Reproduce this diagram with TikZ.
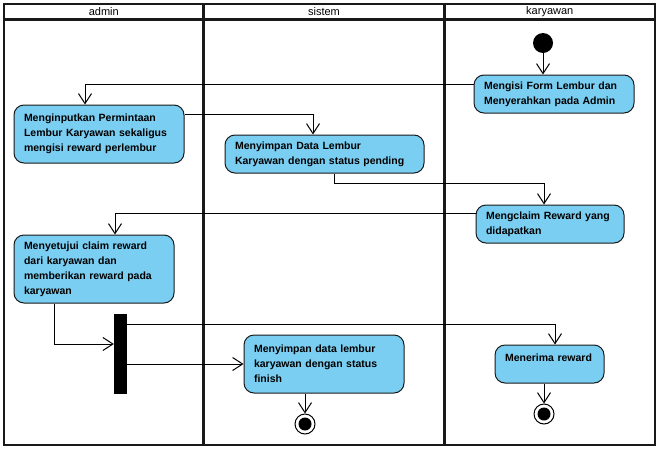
\documentclass[tikz,border=0pt]{standalone}
\usepackage{fontspec}
\setmainfont{Liberation Sans}
\usetikzlibrary{arrows.meta}
\definecolor{actfill}{RGB}{122,206,242}
\definecolor{framecol}{RGB}{25,25,25}
\tikzset{
  act/.style={draw=black!90, line width=1pt, fill=actfill, rounded corners=10pt,
    align=left, inner xsep=10pt, inner ysep=0pt, font=\fontsize{10.5}{15}\selectfont\bfseries},
  arr/.style={line width=1pt, -{Straight Barb[length=10pt,width=13pt,line width=1pt]}},
  lane/.style={draw=framecol, line width=2.3pt},
  lanetitle/.style={font=\fontsize{11}{12}\selectfont, anchor=center},
}
\begin{document}
\begin{tikzpicture}[x=1pt,y=-1pt]
\useasboundingbox (0,0) rectangle (660,450);
% swimlanes
\draw[lane] (4,4) rectangle (655,445);
\draw[lane] (4,19.5) -- (655,19.5);
\draw[lane] (203.5,4) -- (203.5,445);
\draw[lane] (444.5,4) -- (444.5,445);
\node[lanetitle] (t1) at (103.75,12) {admin};
\node[lanetitle] (t2) at (324,12) {sistem};
\node[lanetitle] (t3) at (549.75,12) {karyawan};
% nodes
\node[circle, fill=black, minimum size=20pt, inner sep=0pt] (start) at (543,43) {};
\node[act, text width=140pt, minimum height=38pt] (b1) at (554,94) {Mengisi Form Lembur dan\\Menyerahkan pada Admin};
\node[act, text width=150pt, minimum height=58pt] (b2) at (99,134) {Menginputkan Permintaan\\Lembur Karyawan sekaligus\\mengisi reward perlembur};
\node[act, text width=179pt, minimum height=38pt] (b3) at (324.5,154) {Menyimpan Data Lembur\\Karyawan dengan status pending};
\node[act, text width=128pt, minimum height=38pt] (b4) at (550,224) {Mengclaim Reward yang\\didapatkan};
\node[act, text width=140pt, minimum height=68pt] (b5) at (94,269) {Menyetujui claim reward\\dari karyawan dan\\memberikan reward pada\\karyawan};
\node[fill=black, minimum width=13pt, minimum height=80pt, inner sep=0pt] (fork) at (120.5,354) {};
\node[act, text width=89pt, minimum height=38pt] (b6) at (549.5,364) {\raisebox{6pt}[\height][\depth]{Menerima reward}};
\node[act, text width=140pt, minimum height=58pt] (b7) at (324,364) {Menyimpan data lembur\\karyawan dengan status\\finish};
\node[circle, draw=black, line width=1pt, fill=white, minimum size=20pt, inner sep=0pt] (end1) at (305,424) {};
\node[circle, fill=black, minimum size=13pt, inner sep=0pt] (end1i) at (end1) {};
\node[circle, draw=black, line width=1pt, fill=white, minimum size=20pt, inner sep=0pt] (end2) at (544,414) {};
\node[circle, fill=black, minimum size=13pt, inner sep=0pt] (end2i) at (end2) {};
% connectors
\draw[arr] (start) -- (start |- b1.north);
\draw[arr] ([yshift=10pt]b1.west) -| ([xshift=-14pt]b2.north);
\draw[arr] ([yshift=20pt]b2.east) -| ([xshift=-11.5pt]b3.north);
\draw[arr] ([xshift=9.5pt]b3.south) -- ++(0,10) -| ([xshift=-6pt]b4.north);
\draw[arr] ([yshift=11pt]b4.west) -| ([xshift=21pt]b5.north);
\draw[arr] ([xshift=-40pt]b5.south) |- ([yshift=10pt]fork.west);
\draw[arr] ([yshift=30pt]fork.east) -| ([xshift=5.5pt]b6.north);
\draw[arr] (fork.east |- b7.west) -- (b7.west);
\draw[arr] (end1 |- b7.south) -- (end1.north);
\draw[arr] (end2 |- b6.south) -- (end2.north);
\end{tikzpicture}
\end{document}
